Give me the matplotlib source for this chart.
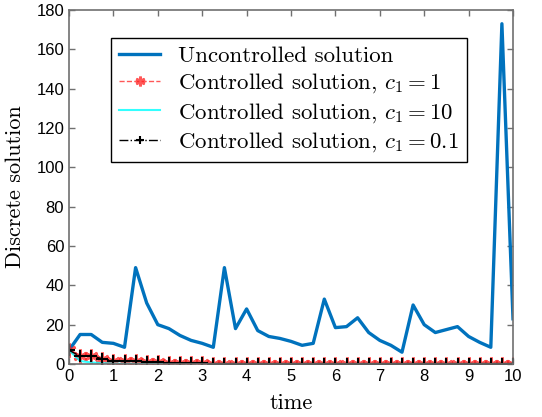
import numpy as np
import matplotlib.pyplot as plt

plt.rcParams['mathtext.fontset'] = 'cm'

t = np.arange(41) * 0.25

uncontrolled = [7, 15, 15, 11, 10.5, 8.5, 49, 31, 20, 18, 14.5, 12, 10.5, 8.5,
                49, 18, 28, 17, 14, 13, 11.5, 9.5, 10.5, 33, 18.5, 19, 23.5,
                16, 12, 9.5, 6, 30, 20, 16, 17.5, 19, 14, 11, 8.5, 173, 23]
ctrl_c1_1 = [7, 4, 4.3, 2.5, 1.5, 1.4, 1.4, 1, 0.9, 0.6, 0.5, 0.5, 0.4,
             0.2, 0.2, 0.2, 0.2, 0.2, 0.2, 0.2, 0.2, 0.2, 0.2, 0.2, 0.2,
             0.2, 0.2, 0.2, 0.2, 0.2, 0.2, 0.2, 0.2, 0.2, 0.2, 0.2, 0.2,
             0.2, 0.2, 0.2, 0.2]
ctrl_c1_10 = [7, 1.5, 0.8, 0.4, 0.2, 0.1, 0.1, 0, 0, 0, 0, 0, 0, 0, 0, 0, 0,
              0, 0, 0, 0, 0, 0, 0, 0, 0, 0, 0, 0, 0, 0, 0, 0, 0, 0, 0, 0, 0,
              0, 0, 0]
ctrl_c1_01 = [7, 4, 4.3, 2.6, 1.7, 1.5, 1.5, 1.1, 1, 0.7, 0.6, 0.5, 0.4,
              0.2, 0.2, 0.2, 0.2, 0.2, 0.2, 0.2, 0.2, 0.2, 0.2, 0.2, 0.2,
              0.2, 0.2, 0.2, 0.2, 0.2, 0.2, 0.2, 0.2, 0.2, 0.2, 0.2, 0.2,
              0.2, 0.2, 0.2, 0.2]

fig = plt.figure(figsize=(5.42, 4.17), dpi=100)
ax = fig.add_axes([69 / 542, 1 - 364 / 417, 444 / 542, 354 / 417])

ax.plot(t, uncontrolled, color='#0072BD', lw=2.4, label='Uncontrolled solution')
ax.plot(t, ctrl_c1_1, color='#FF2020', ls='--', lw=1, marker=(6, 2, 0), ms=10,
        mew=2, mec='#FF2020', alpha=0.75, label=r'Controlled solution, $c_1=1$')
ax.plot(t, ctrl_c1_10, color='#00FFFF', lw=1.5, alpha=0.8,
        label=r'Controlled solution, $c_1=10$')
ax.plot(t, ctrl_c1_01, color='black', ls='-.', lw=1, marker='+', ms=8, mew=1.5,
        label=r'Controlled solution, $c_1=0.1$')

ax.set_xlim(0, 10)
ax.set_ylim(0, 180)
ax.set_xticks(range(11))
ax.set_yticks(range(0, 181, 20))
ax.tick_params(direction='in', top=True, right=True, length=4, color='#707070',
               labelsize=12, width=1)
for lab in ax.get_xticklabels() + ax.get_yticklabels():
    lab.set_fontfamily('Liberation Sans')
for s in ax.spines.values():
    s.set_color('#707070')
    s.set_linewidth(1.2)

ax.set_xlabel('time', fontfamily='cmr10', fontsize=16, labelpad=7)
ax.set_ylabel('Discrete solution', fontfamily='cmr10', fontsize=16, labelpad=8)

leg = ax.legend(loc='upper left', bbox_to_anchor=(0.095, 0.922),
                prop={'family': 'cmr10', 'size': 16.5}, fancybox=False,
                edgecolor='black', framealpha=1, borderpad=0.35,
                labelspacing=0.25, handlelength=1.8, handletextpad=0.75,
                borderaxespad=0, markerscale=0.7)
leg.get_frame().set_linewidth(1)

fig.savefig('out.png', dpi=100)
